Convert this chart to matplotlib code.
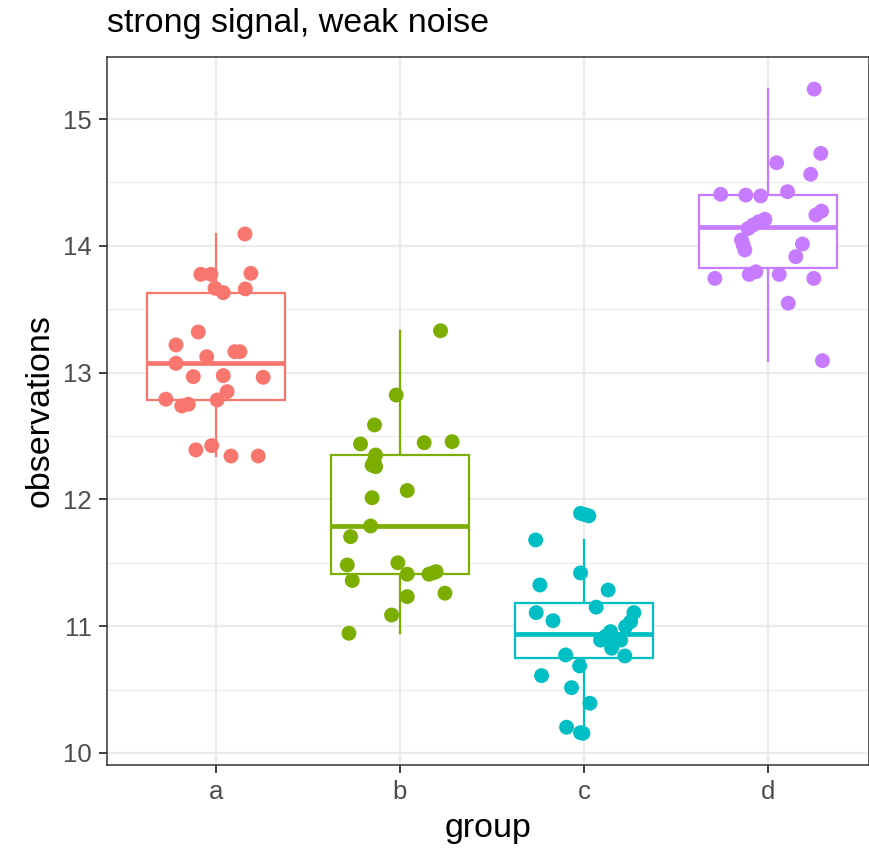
import matplotlib
matplotlib.use("Agg")
import matplotlib.pyplot as plt
import numpy as np

# Donnees
groupes = ["a", "b", "c", "d"]
couleurs = ["#F8766D", "#7CAE00", "#00BFC4", "#C77CFF"]

obs_a = [14.093, 13.775, 13.775, 13.783, 13.665, 13.63, 13.66, 13.32, 13.218,
         13.165, 13.165, 13.125, 13.073, 12.968, 12.976, 12.963, 12.85, 12.79,
         12.737, 12.75, 12.784, 12.39, 12.424, 12.342, 12.342]
jit_a = [0.158, -0.082, -0.027, 0.19, -0.005, 0.04, 0.16, -0.096, -0.217,
         0.103, 0.13, -0.05, -0.217, -0.123, 0.04, 0.257, 0.061, -0.272,
         -0.186, -0.15, 0.007, -0.109, -0.023, 0.082, 0.23]

obs_b = [13.33, 12.823, 12.587, 12.437, 12.447, 12.455, 12.35, 12.30, 12.27,
         12.258, 12.07, 12.013, 11.79, 11.706, 11.483, 11.50, 11.36, 11.41,
         11.41, 11.42, 11.43, 11.233, 11.26, 11.088, 10.944]
jit_b = [0.221, -0.02, -0.138, -0.214, 0.132, 0.284, -0.132, -0.14, -0.151,
         -0.132, 0.04, -0.151, -0.159, -0.268, -0.286, -0.011, -0.259, 0.04,
         0.158, 0.18, 0.197, 0.04, 0.245, -0.045, -0.277]

obs_c = [11.89, 11.88, 11.87, 11.68, 11.42, 11.325, 11.285, 11.15, 11.107,
         11.043, 11.107, 11.035, 10.996, 10.957, 10.89, 10.865, 10.89, 10.826,
         10.92, 10.773, 10.765, 10.686, 10.61, 10.515, 10.392, 10.203, 10.16,
         10.155]
jit_c = [-0.018, 0.005, 0.027, -0.262, -0.018, -0.239, 0.132, 0.067, -0.259,
         -0.168, 0.272, 0.254, 0.227, 0.145, 0.091, 0.154, 0.2, 0.151,
         0.118, -0.099, 0.223, -0.023, -0.23, -0.067, 0.033, -0.094, -0.018,
         -0.005]

obs_d = [15.236, 14.729, 14.655, 14.564, 14.406, 14.40, 14.393, 14.427, 14.274,
         14.243, 14.209, 14.19, 14.164, 14.137, 14.046, 14.006, 13.967, 14.014,
         13.914, 13.743, 13.774, 13.795, 13.774, 13.743, 13.547, 13.094]
jit_d = [0.252, 0.288, 0.048, 0.233, -0.256, -0.12, -0.039, 0.107, 0.292,
         0.261, -0.016, -0.049, -0.08, -0.107, -0.143, -0.134, -0.125, 0.188,
         0.152, -0.288, -0.101, -0.065, 0.062, 0.25, 0.111, 0.297]

observations = [obs_a, obs_b, obs_c, obs_d]
jitters = [jit_a, jit_b, jit_c, jit_d]

plt.rcParams["font.family"] = ["Liberation Sans", "DejaVu Sans"]

fig = plt.figure(figsize=(8.7, 8.51), dpi=100)
ax = fig.add_axes([107 / 870, 1 - 765 / 851, 762 / 870, 708 / 851])

positions = np.arange(1, len(groupes) + 1)

for i, (obs, jit, col) in enumerate(zip(observations, jitters, couleurs)):
    pos = positions[i]
    ax.boxplot([obs], positions=[pos], widths=0.75, whis=1.5,
               showfliers=False, showcaps=False, patch_artist=True,
               boxprops=dict(facecolor="white", edgecolor=col, linewidth=1.6),
               whiskerprops=dict(color=col, linewidth=1.6),
               medianprops=dict(color=col, linewidth=3.4, solid_capstyle="butt"),
               zorder=2)
    ax.scatter(pos + np.array(jit), obs, s=115, color=col, edgecolors="none",
               zorder=3)

ax.set_xlim(0.408, 4.55)
ax.set_ylim(9.905, 15.489)
ax.set_xticks(positions)
ax.set_xticklabels(groupes)
ax.set_yticks([10, 11, 12, 13, 14, 15])
ax.set_yticks([10.5, 11.5, 12.5, 13.5, 14.5], minor=True)

# Theme proche de theme_bw
ax.set_axisbelow(True)
ax.grid(True, which="major", color="#EBEBEB", linewidth=1.6)
ax.grid(True, which="minor", axis="y", color="#EBEBEB", linewidth=0.8)
for sp in ax.spines.values():
    sp.set_color("#333333")
    sp.set_linewidth(1.1)
ax.tick_params(axis="both", which="major", length=6, width=1.3, color="#333333",
               labelcolor="#4D4D4D", labelsize=18.5, pad=5)
ax.tick_params(axis="y", which="minor", length=0)

ax.set_xlabel("group", fontsize=24.5, labelpad=6)
ax.set_ylabel("observations", fontsize=24.5, labelpad=5)
ax.set_title("strong signal, weak noise", loc="left", fontsize=24.5, pad=18)

plt.savefig("out.png", dpi=100)
